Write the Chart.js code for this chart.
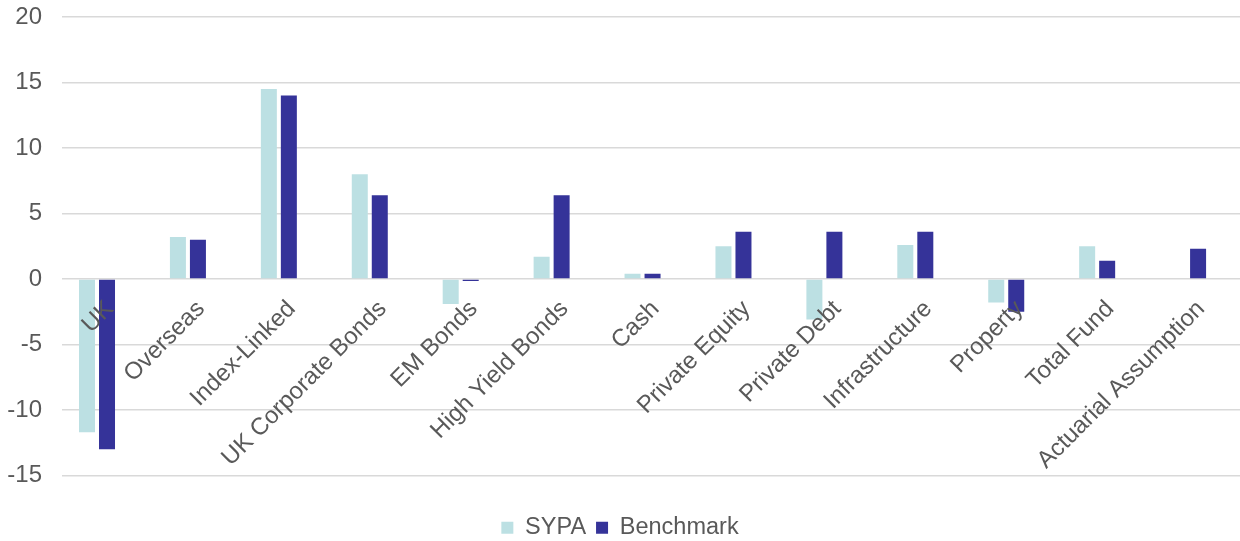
<!DOCTYPE html>
<html>
<head>
<meta charset="utf-8">
<script src="https://cdn.jsdelivr.net/npm/chart.js"></script>
<style>
  html, body { margin: 0; padding: 0; background: #ffffff; }
  #wrap { width: 1240px; height: 541px; }
</style>
</head>
<body>
<div id="wrap"><canvas id="chartCanvas"></canvas></div>
<script>
// Asset class returns (%)
const categories = ['UK', 'Overseas', 'Index-Linked', 'UK Corporate Bonds', 'EM Bonds', 'High Yield Bonds',
    'Cash', 'Private Equity', 'Private Debt', 'Infrastructure', 'Property', 'Total Fund', 'Actuarial Assumption'];
const sypa = [-11.7, 3.2, 14.5, 8.0, -1.9, 1.7, 0.4, 2.5, -3.1, 2.6, -1.8, 2.5, null];
const benchmark = [-13.0, 3.0, 14.0, 6.4, -0.15, 6.4, 0.4, 3.6, 3.6, 3.6, -2.5, 1.4, 2.3];
const yTicks = [-15, -10, -5, 0, 5, 10, 15, 20];

const textColor = '#595959';
const gridColor = '#d9d9d9';
const fontFamily = '"Liberation Sans", Arial, sans-serif';

function points(values) {
    return values.map((v, i) => ({ x: i, y: v }));
}

document.addEventListener('DOMContentLoaded', function () {
    const ctx = document.getElementById('chartCanvas').getContext('2d');
    new Chart(ctx, {
        type: 'bar',
        data: {
            datasets: [{
                label: 'SYPA',
                data: points(sypa),
                backgroundColor: '#bce0e3',
                categoryPercentage: 0.44,
                barPercentage: 0.8
            }, {
                label: 'Benchmark',
                data: points(benchmark),
                backgroundColor: '#353399',
                categoryPercentage: 0.44,
                barPercentage: 0.8
            }]
        },
        options: {
            responsive: true,
            maintainAspectRatio: false,
            animation: false,
            layout: {
                padding: { top: 17, left: 0, right: 0, bottom: -8.5 }
            },
            plugins: {
                legend: {
                    position: 'bottom',
                    // empty title only spaces the legend away from the plot
                    title: {
                        display: true,
                        text: ' ',
                        font: { size: 1, lineHeight: 1 },
                        padding: { top: 29.5, bottom: 0 }
                    },
                    labels: {
                        boxWidth: 12,
                        boxHeight: 12,
                        padding: 10,
                        color: textColor,
                        font: { family: fontFamily, size: 23.5 }
                    }
                },
                tooltip: { enabled: false }
            },
            scales: {
                x: {
                    type: 'linear',
                    position: { y: 0 },
                    offset: false,
                    min: -0.385,
                    max: 12.571,
                    grid: { display: false },
                    border: { display: false },
                    afterFit: function (axis) {
                        axis.paddingLeft = 0;
                        axis.paddingRight = 0;
                    },
                    ticks: {
                        z: 1,
                        stepSize: 1,
                        includeBounds: false,
                        autoSkip: false,
                        minRotation: 45,
                        maxRotation: 45,
                        padding: 8,
                        labelOffset: 13,
                        color: textColor,
                        font: { family: fontFamily, size: 24 },
                        callback: function (value) {
                            return Number.isInteger(value) ? categories[value] : '';
                        }
                    }
                },
                y: {
                    min: yTicks[0],
                    max: yTicks[yTicks.length - 1],
                    grid: { color: gridColor, lineWidth: 1.5, drawTicks: false },
                    border: { display: false },
                    afterBuildTicks: function (axis) {
                        axis.ticks = yTicks.map(v => ({ value: v }));
                    },
                    afterFit: function (axis) {
                        axis.width = 62;
                        axis.paddingTop = 0;
                        axis.paddingBottom = 0;
                    },
                    ticks: {
                        padding: 20,
                        color: textColor,
                        font: { family: fontFamily, size: 24 }
                    }
                }
            }
        }
    });
});
</script>
</body>
</html>
